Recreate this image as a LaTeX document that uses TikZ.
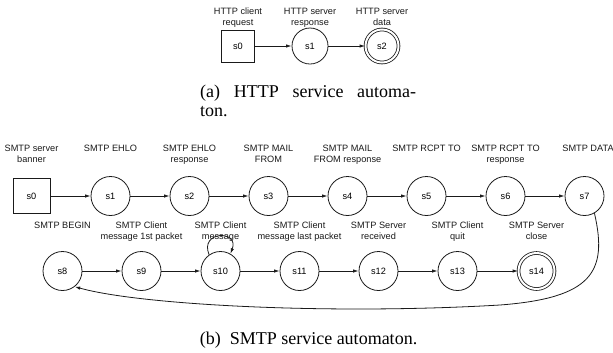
\documentclass[tikz,border=0pt]{standalone}
\usepackage{fontspec}
\setmainfont{Liberation Serif}
\newfontfamily\labelfont{Liberation Sans}
\usepackage{tikz}
\usetikzlibrary{arrows.meta}
\definecolor{ink}{HTML}{1A1A1A}
\tikzset{
  statenode/.style={draw=ink,circle,line width=.8pt,minimum size=39bp,inner sep=0pt,
    font=\labelfont\fontsize{9.2bp}{11bp}\selectfont},
  startbox/.style={draw=ink,rectangle,line width=.8pt,minimum width=37bp,minimum height=35bp,
    inner sep=0pt,font=\labelfont\fontsize{9.2bp}{11bp}\selectfont},
  finalnode/.style={statenode,double,double distance=2bp,minimum size=36bp},
  tag/.style={anchor=north,align=center,inner sep=0pt,text=ink,
    font=\labelfont\fontsize{9.2bp}{11.5bp}\selectfont},
  flow/.style={-{Latex[length=5.5bp,width=3.4bp]},draw=ink,line width=.8pt},
  subcap/.style={inner sep=0pt,font=\fontsize{18bp}{18.5bp}\selectfont}
}
\begin{document}
\begin{tikzpicture}[x=1bp,y=-1bp]
  \useasboundingbox (0,0) rectangle (613,352);
  % (a) HTTP
  \node[startbox,minimum width=33bp,minimum height=32bp] (h0) at (238,46) {s0};
  \node[statenode,minimum size=36bp] (h1) at (310,46) {s1};
  \node[finalnode,minimum size=33bp] (h2) at (382,46) {s2};
  \draw[flow] (h0) -- (h1); \draw[flow] (h1) -- (h2);
  \node[tag] (th0) at (238,7.5) {HTTP client\\request};
  \node[tag] (th1) at (310,7.5) {HTTP server\\response};
  \node[tag] (th2) at (382,7.5) {HTTP server\\data};
  \node[subcap,text width=216bp,align=justify,anchor=north west] (capa) at (200,85)
    {(a) HTTP service automa-\linebreak ton.};

  % (b) SMTP, first row
  \node[startbox] (s0) at (31.5,196) {s0};
  \node[statenode] (s1) at (110.5,196) {s1};
  \node[statenode] (s2) at (189.5,196) {s2};
  \node[statenode] (s3) at (268.5,196) {s3};
  \node[statenode] (s4) at (347.5,196) {s4};
  \node[statenode] (s5) at (426.5,196) {s5};
  \node[statenode] (s6) at (505.5,196) {s6};
  \node[statenode] (s7) at (584.5,196) {s7};
  \node[tag] (t0) at (31.5,144.5) {SMTP server\\banner};
  \node[tag] (t1) at (110.5,144.5) {SMTP EHLO};
  \node[tag] (t2) at (189.5,144.5) {SMTP EHLO\\response};
  \node[tag] (t3) at (268.5,144.5) {SMTP MAIL\\FROM};
  \node[tag] (t4) at (347.5,144.5) {SMTP MAIL\\FROM response};
  \node[tag] (t5) at (426.5,144.5) {SMTP RCPT TO};
  \node[tag] (t6) at (505.5,144.5) {SMTP RCPT TO\\response};
  \node[tag] (t7) at (588,144.5) {SMTP DATA};

  % second row
  \node[statenode] (s8) at (62.5,271) {s8};
  \node[statenode] (s9) at (141.5,271) {s9};
  \node[statenode] (s10) at (220.5,271) {s10};
  \node[statenode] (s11) at (299.5,271) {s11};
  \node[statenode] (s12) at (378.5,271) {s12};
  \node[statenode] (s13) at (457.5,271) {s13};
  \node[finalnode] (s14) at (536.5,271) {s14};
  \node[tag] (t8) at (62.5,221.5) {SMTP BEGIN};
  \node[tag] (t9) at (141.5,221.5) {SMTP Client\\message 1st packet};
  \node[tag] (t10) at (220.5,221.5) {SMTP Client\\message};
  \node[tag] (t11) at (299.5,221.5) {SMTP Client\\message last packet};
  \node[tag] (t12) at (378.5,221.5) {SMTP Server\\received};
  \node[tag] (t13) at (457.5,221.5) {SMTP Client\\quit};
  \node[tag] (t14) at (536.5,221.5) {SMTP Server\\close};

  \draw[flow] (s0) -- (s1); \draw[flow] (s1) -- (s2); \draw[flow] (s2) -- (s3);
  \draw[flow] (s3) -- (s4); \draw[flow] (s4) -- (s5); \draw[flow] (s5) -- (s6);
  \draw[flow] (s6) -- (s7);
  \draw[flow] (s8) -- (s9); \draw[flow] (s9) -- (s10); \draw[flow] (s10) -- (s11);
  \draw[flow] (s11) -- (s12); \draw[flow] (s12) -- (s13); \draw[flow] (s13) -- (s14);
  \draw[flow] (s10.125) .. controls +(-10,-24) and +(9,-24) .. (s10.60);
  \draw[flow] (s7.-60) .. controls (608,272) and (592,298) .. (500,305)
    .. controls (330,315) and (140,305) .. (s8.-52);

  \node[subcap,anchor=base] (capb) at (308.5,344.5) {(b)\enspace SMTP service automaton.};
\end{tikzpicture}
\end{document}
